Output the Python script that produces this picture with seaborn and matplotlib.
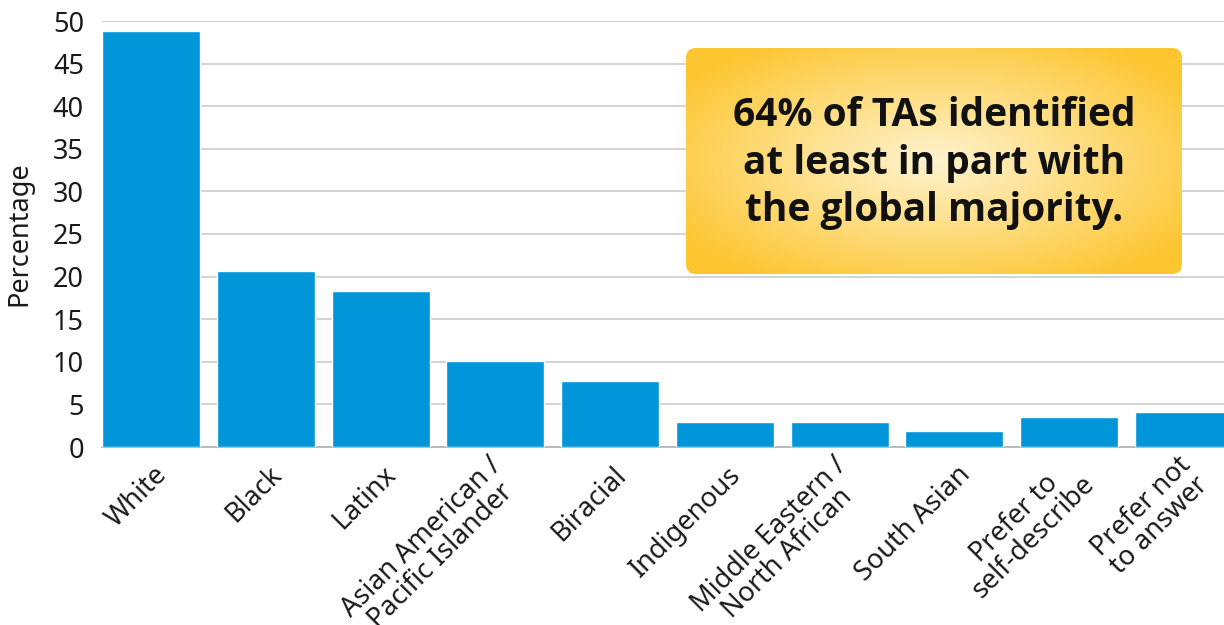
import numpy as np
import pandas as pd
import matplotlib
matplotlib.use("Agg")
import matplotlib.pyplot as plt
import matplotlib.transforms as mtransforms
import seaborn as sns
from matplotlib.patches import FancyBboxPatch
from matplotlib.colors import LinearSegmentedColormap
from matplotlib import font_manager

categories = [
    "White", "Black", "Latinx", "Asian American /\nPacific Islander",
    "Biracial", "Indigenous", "Middle Eastern /\nNorth African",
    "South Asian", "Prefer to\nself-describe", "Prefer not\nto answer",
]
percentages = [48.8, 20.7, 18.3, 10.1, 7.8, 2.9, 2.9, 1.9, 3.5, 4.1]
yticks = [0, 5, 10, 15, 20, 25, 30, 35, 40, 45, 50]
callout_text = "64% of TAs identified\nat least in part with\nthe global majority."

sns.set_theme(style="white")
plt.rcParams["font.family"] = ["Noto Sans", "DejaVu Sans"]

W, H = 1224, 625
fig = plt.figure(figsize=(W / 100, H / 100), dpi=100)
ax = fig.add_axes([102 / W, 1 - 447 / H, 1 - 102 / W, (447 - 21) / H])

df = pd.DataFrame({"group": categories, "pct": percentages})
sns.barplot(data=df, x="group", y="pct", color="#0096D9", saturation=1,
            width=0.854, ax=ax, zorder=3)

ax.set_ylim(0, 50)
ax.set_xlim(-0.427, 9.35)
ax.set_yticks(yticks)
ax.set_yticklabels([str(v) for v in yticks], fontsize=19.5, color="#1a1a1a")
ax.yaxis.grid(True, color="#cccccc", linewidth=1.2, zorder=0)
ax.set_axisbelow(True)
for side in ["top", "right", "left"]:
    ax.spines[side].set_visible(False)
ax.spines["bottom"].set_color("#b0b0b0")
ax.spines["bottom"].set_linewidth(1.2)
ax.tick_params(axis="y", length=0, pad=13)
ax.tick_params(axis="x", length=0, pad=7)
ax.set_xlabel("")
ax.set_ylabel("Percentage", fontsize=19.5, color="#1a1a1a")
ax.yaxis.set_label_coords(-0.0615, 0.5)

# Rotated category labels, anchored at the right-middle of each text block
ax.set_xticks(range(len(categories)))
ax.set_xticklabels(categories, rotation=45, ha="right", va="center",
                   rotation_mode="anchor", multialignment="center",
                   fontsize=19.5, color="#1a1a1a")
offset = mtransforms.ScaledTranslation(12 / 100, -14 / 100, fig.dpi_scale_trans)
for lbl in ax.get_xticklabels():
    lbl.set_linespacing(0.92)
    lbl.set_transform(lbl.get_transform() + offset)

# Callout box with a radial gold gradient
bx0, by0, bx1, by1 = 686, 48, 1182, 274
cax = fig.add_axes([bx0 / W, 1 - by1 / H, (bx1 - bx0) / W, (by1 - by0) / H])
cax.set_xlim(0, 1)
cax.set_ylim(0, 1)
cax.axis("off")
nx, ny = 400, 200
xx, yy = np.meshgrid(np.linspace(-1, 1, nx), np.linspace(-1, 1, ny))
r = np.clip(np.sqrt(xx ** 2 + yy ** 2) / 1.25, 0, 1)
cmap = LinearSegmentedColormap.from_list("gold", ["#FFF3CF", "#FEDD80", "#FDC52F"])
im = cax.imshow(r, cmap=cmap, extent=(0, 1, 0, 1), aspect="auto", origin="lower")
box = FancyBboxPatch((0, 0), 1, 1, boxstyle="round,pad=0,rounding_size=0.02",
                     transform=cax.transAxes, facecolor="none", edgecolor="none",
                     mutation_aspect=(bx1 - bx0) / (by1 - by0))
cax.add_patch(box)
im.set_clip_path(box)

bold_font = font_manager.FontProperties(family=["Open Sans", "Noto Sans", "DejaVu Sans"],
                                        weight="bold", stretch="normal", size=28)
cax.text(0.5, 0.49, callout_text, ha="center", va="center",
         fontproperties=bold_font, color="#111111", linespacing=1.28,
         transform=cax.transAxes)

fig.savefig("out.png", dpi=100)
